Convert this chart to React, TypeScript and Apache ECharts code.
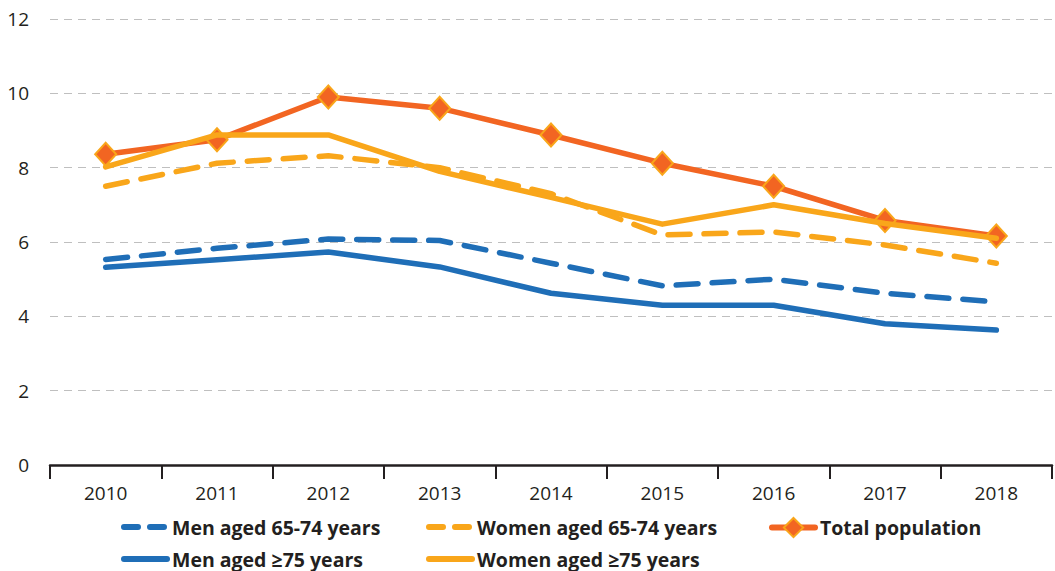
import React, { useEffect, useRef } from "react";
import * as echarts from "echarts";

const years = ["2010", "2011", "2012", "2013", "2014", "2015", "2016", "2017", "2018"];
const menAged65to74 = [5.53, 5.83, 6.08, 6.04, 5.43, 4.82, 5.0, 4.62, 4.39];
const womenAged65to74 = [7.5, 8.12, 8.32, 8.0, 7.3, 6.19, 6.27, 5.92, 5.43];
const totalPopulation = [8.36, 8.75, 9.9, 9.6, 8.88, 8.12, 7.5, 6.58, 6.16];
const menAged75plus = [5.32, 5.52, 5.73, 5.33, 4.62, 4.3, 4.3, 3.8, 3.63];
const womenAged75plus = [8.02, 8.88, 8.88, 7.9, 7.2, 6.48, 7.0, 6.5, 6.1];

const BLUE = "#1F6EB7";
const YELLOW = "#F9A61A";
const RED = "#F26522";
const TEXT = "#231F20";
const FONT = "'Open Sans', 'Noto Sans', sans-serif";

export default function App() {
  const ref = useRef<HTMLDivElement>(null);
  useEffect(() => {
    const chart = echarts.init(ref.current!, null, { renderer: "svg" });
    const legendBase = {
      itemWidth: 43,
      itemHeight: 24,
      padding: 0,
      textStyle: { fontFamily: FONT, fontSize: 19.5, fontWeight: "bold", color: TEXT },
      selectedMode: false,
    } as any;
    const noSymbol = { opacity: 0 };
    chart.setOption({
      animation: false,
      textStyle: { fontFamily: FONT },
      grid: { left: 50, right: 3, top: 19, bottom: 106, containLabel: false },
      legend: [
        {
          ...legendBase,
          data: ["Men aged 65-74 years"],
          left: 121,
          top: 517,
          itemStyle: noSymbol,
          lineStyle: { width: 6, type: [14, 12], cap: "round" },
        },
        {
          ...legendBase,
          data: ["Women aged 65-74 years"],
          left: 426,
          top: 517,
          itemStyle: noSymbol,
          lineStyle: { width: 6, type: [14, 12], cap: "round" },
        },
        {
          ...legendBase,
          data: ["Total population"],
          left: 769,
          top: 517,
          lineStyle: { width: 6, cap: "round" },
        },
        {
          ...legendBase,
          data: ["Men aged \u226575 years"],
          left: 121,
          top: 549,
          itemStyle: noSymbol,
          lineStyle: { width: 6, type: "solid", cap: "round" },
        },
        {
          ...legendBase,
          data: ["Women aged \u226575 years"],
          left: 426,
          top: 549,
          itemStyle: noSymbol,
          lineStyle: { width: 6, type: "solid", cap: "round" },
        },
      ],
      xAxis: {
        type: "category",
        data: years,
        boundaryGap: true,
        axisLine: { lineStyle: { color: TEXT, width: 2.5 } },
        axisTick: { show: true, interval: 0, length: 14, lineStyle: { color: TEXT, width: 2 } },
        axisLabel: { color: TEXT, fontSize: 19, margin: 18, fontFamily: FONT },
      },
      yAxis: {
        type: "value",
        min: 0,
        max: 12,
        interval: 2,
        axisLine: { show: false },
        axisTick: { show: false },
        axisLabel: { color: TEXT, fontSize: 19, margin: 21, fontFamily: FONT },
        splitLine: { lineStyle: { color: "#BFBFBF", width: 1, type: [8, 6] } },
      },
      series: [
        {
          name: "Total population",
          type: "line",
          data: totalPopulation,
          symbol: "diamond",
          symbolSize: [21, 23],
          lineStyle: { color: RED, width: 5.5 },
          itemStyle: { color: RED, borderColor: YELLOW, borderWidth: 2 },
          z: 2,
        },
        {
          name: "Men aged 65-74 years",
          type: "line",
          data: menAged65to74,
          symbol: "none",
          lineStyle: { color: BLUE, width: 5.5, type: [22, 14], cap: "round", join: "round" },
          itemStyle: { color: BLUE },
          z: 3,
        },
        {
          name: "Women aged 65-74 years",
          type: "line",
          data: womenAged65to74,
          symbol: "none",
          lineStyle: { color: YELLOW, width: 5.5, type: [22, 14], cap: "round", join: "round" },
          itemStyle: { color: YELLOW },
          z: 3,
        },
        {
          name: "Men aged \u226575 years",
          type: "line",
          data: menAged75plus,
          symbol: "none",
          lineStyle: { color: BLUE, width: 5.5, cap: "round", join: "round" },
          itemStyle: { color: BLUE },
          z: 3,
        },
        {
          name: "Women aged \u226575 years",
          type: "line",
          data: womenAged75plus,
          symbol: "none",
          lineStyle: { color: YELLOW, width: 5.5, cap: "round", join: "round" },
          itemStyle: { color: YELLOW },
          z: 4,
        },
      ],
    });
    return () => chart.dispose();
  }, []);
  return (
    <div
      ref={ref}
      style={{ position: "fixed", left: 0, top: 0, width: 1055, height: 571, background: "#fff" }}
    />
  );
}
